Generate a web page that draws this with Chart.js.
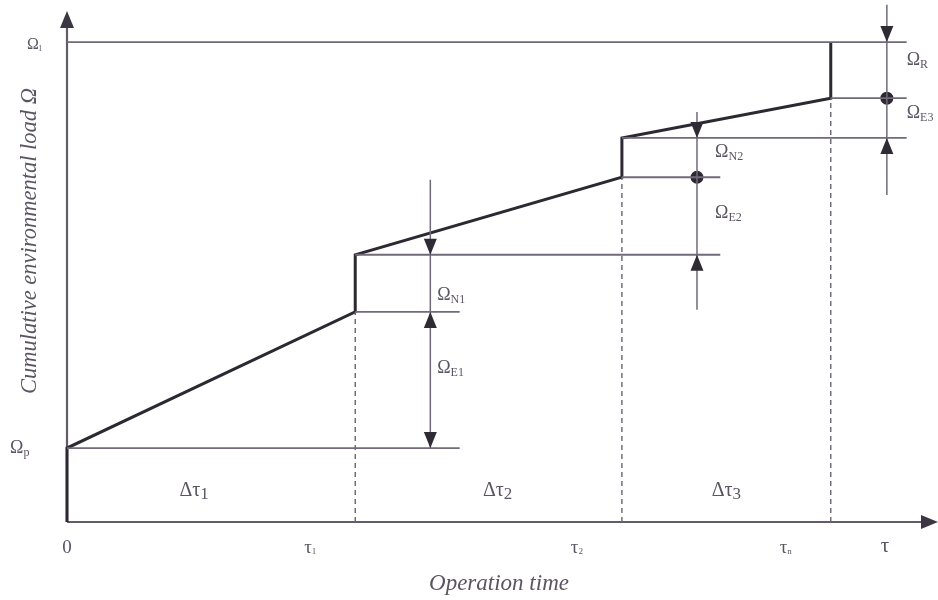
<!DOCTYPE html>
<html>
<head>
<meta charset="utf-8">
<script src="https://cdn.jsdelivr.net/npm/chart.js@4.4.1/dist/chart.umd.min.js"></script>
<style>
  html, body { margin: 0; padding: 0; background: #ffffff; }
  #wrap { width: 938px; height: 600px; position: relative; }
</style>
</head>
<body>
<div id="wrap"><canvas id="c"></canvas></div>
<script>
// Cumulative environmental load of a product over its operation time,
// with a renewal step at the end of every operating phase.

const tauTicks = [0, 3.34, 6.43, 8.85];                  // phase boundaries 0, τ1, τ2, τn
const tauNames = [['0', ''], ['τ', '1'], ['τ', '2'], ['τ', 'n']];
const phaseNames = [['Δτ', '1'], ['Δτ', '2'], ['Δτ', '3']];
const omegaP = 1.45;                                     // load from production
const omegaL = 9.41;                                     // load limit
const loadBeforeStep = [4.12, 6.76, 8.31];               // load at the end of each phase
const loadAfterStep = [5.24, 7.53, 9.41];                // load after each renewal step
const dimX = [4.21, 7.30, 9.50];                         // dimension lines
const guideEnd = [4.55, 7.57, 9.73];                     // right ends of the level lines
const dimSpan = [[6.71, 1.45], [8.04, 4.16], [10.14, 6.41]];
const dimLabels = [
  ['Ω', 'N1', 4.29, 4.45], ['Ω', 'E1', 4.29, 3.02],
  ['Ω', 'N2', 7.51, 7.25], ['Ω', 'E2', 7.51, 6.06],
  ['Ω', 'R', 9.73, 9.06], ['Ω', 'E3', 9.73, 8.02]
];

// load path: production jump, then linear growth and a step per phase
const loadPath = [{ x: 0, y: 0 }, { x: 0, y: omegaP }];
loadBeforeStep.forEach((v, i) => {
  loadPath.push({ x: tauTicks[i + 1], y: v });
  loadPath.push({ x: tauTicks[i + 1], y: loadAfterStep[i] });
});

// thin level lines, separated by gaps
const levelSegs = [
  [0, guideEnd[0], omegaP],
  [0, guideEnd[2], omegaL],
  [tauTicks[1], guideEnd[0], loadBeforeStep[0]],
  [tauTicks[1], guideEnd[1], loadAfterStep[0]],
  [tauTicks[2], guideEnd[1], loadBeforeStep[1]],
  [tauTicks[2], guideEnd[2], loadAfterStep[1]],
  [tauTicks[3], guideEnd[2], loadBeforeStep[2]]
];
const levelPts = [];
levelSegs.forEach(s => {
  levelPts.push({ x: s[0], y: s[2] }, { x: s[1], y: s[2] }, { x: s[1], y: null });
});

// dashed phase boundaries
const dashPts = [];
loadBeforeStep.forEach((v, i) => {
  dashPts.push({ x: tauTicks[i + 1], y: 0 }, { x: tauTicks[i + 1], y: v }, { x: tauTicks[i + 1], y: null });
});

// dimension lines
const dimPts = [];
dimX.forEach((x, i) => {
  dimPts.push({ x: x, y: dimSpan[i][0] }, { x: x, y: dimSpan[i][1] }, { x: x, y: null });
});

const arrowHeads = [
  [dimX[0], loadAfterStep[0], -1], [dimX[0], loadBeforeStep[0], 1], [dimX[0], omegaP, -1],
  [dimX[1], loadAfterStep[1], -1], [dimX[1], loadAfterStep[0], 1],
  [dimX[2], omegaL, -1], [dimX[2], loadAfterStep[1], 1]
];
const dots = [
  { x: dimX[1], y: loadBeforeStep[1] },
  { x: dimX[2], y: loadBeforeStep[2] }
];

const INK = '#5b5563';
const LINE = '#716a79';
const SERIF = '"Liberation Serif", "DejaVu Serif", serif';

function subText(ctx, base, sub, x, y, size, subSize, align, subDrop) {
  ctx.font = size + 'px ' + SERIF;
  const wb = ctx.measureText(base).width;
  ctx.font = subSize + 'px ' + SERIF;
  const ws = ctx.measureText(sub).width;
  const total = wb + ws;
  let left = x;
  if (align === 'center') left = x - total / 2;
  ctx.textAlign = 'left';
  ctx.textBaseline = 'middle';
  ctx.font = size + 'px ' + SERIF;
  ctx.fillText(base, left, y);
  ctx.font = subSize + 'px ' + SERIF;
  ctx.fillText(sub, left + wb, y + subDrop);
}

const decor = {
  id: 'decor',
  beforeDatasetsDraw(chart) {
    const { ctx, scales: { x, y } } = chart;
    const x0 = x.getPixelForValue(0), y0 = y.getPixelForValue(0);
    ctx.save();
    ctx.strokeStyle = '#625c69';
    ctx.fillStyle = '#3c3742';
    ctx.lineWidth = 2.2;
    // axes
    ctx.beginPath();
    ctx.moveTo(x0, y0); ctx.lineTo(x0, 20);
    ctx.moveTo(x0, y0); ctx.lineTo(928, y0);
    ctx.stroke();
    ctx.beginPath();
    ctx.moveTo(x0, 11); ctx.lineTo(x0 - 7, 28); ctx.lineTo(x0 + 7, 28); ctx.closePath(); ctx.fill();
    ctx.beginPath();
    ctx.moveTo(938, y0); ctx.lineTo(921, y0 - 7); ctx.lineTo(921, y0 + 7); ctx.closePath(); ctx.fill();
    ctx.restore();
  },
  afterDatasetsDraw(chart) {
    const { ctx, scales: { x, y } } = chart;
    ctx.save();
    ctx.fillStyle = '#2f2b35';
    arrowHeads.forEach(a => {
      const px = x.getPixelForValue(a[0]);
      const py = y.getPixelForValue(a[1]);
      const d = a[2]; // 1 = pointing up, -1 = pointing down
      ctx.beginPath();
      ctx.moveTo(px, py);
      ctx.lineTo(px - 6.5, py + d * 16);
      ctx.lineTo(px + 6.5, py + d * 16);
      ctx.closePath();
      ctx.fill();
    });

    ctx.fillStyle = INK;
    // dimension labels
    dimLabels.forEach(l => {
      subText(ctx, l[0], l[1], x.getPixelForValue(l[2]), y.getPixelForValue(l[3]), 18, 12, 'left', 5);
    });
    // level names on the load axis
    subText(ctx, 'Ω', 'l', 27, y.getPixelForValue(omegaL) + 3, 16, 9, 'left', 4);
    subText(ctx, 'Ω', 'p', 10, y.getPixelForValue(omegaP), 18, 12, 'left', 5);

    // phase names
    const phaseShift = [-17, 9, 0];
    phaseNames.forEach((p, i) => {
      const cx = (x.getPixelForValue(tauTicks[i]) + x.getPixelForValue(tauTicks[i + 1])) / 2 + phaseShift[i];
      subText(ctx, p[0], p[1], cx, 491, 20, 17, 'center', 4);
    });

    // time tick names
    tauNames.forEach((t, i) => {
      const px = x.getPixelForValue(tauTicks[i]);
      const cx = i === 0 ? px : px - 45;
      subText(ctx, t[0], t[1], cx, 548, 19, 9, 'center', 4);
    });
    subText(ctx, 'τ', '', 885, 546, 21, 9, 'center', 4);

    // axis titles
    ctx.font = 'italic 23px ' + SERIF;
    ctx.textAlign = 'center';
    ctx.textBaseline = 'middle';
    ctx.fillText('Operation time', 499, 584);
    ctx.font = 'italic 22.5px ' + SERIF;
    ctx.translate(30, 241);
    ctx.rotate(-Math.PI / 2);
    ctx.fillText('Cumulative environmental load Ω', 0, 0);
    ctx.restore();
  }
};

new Chart(document.getElementById('c'), {
  type: 'scatter',
  data: {
    datasets: [
      { data: levelPts, showLine: true, borderColor: LINE, borderWidth: 1.8, pointRadius: 0, spanGaps: false, clip: false },
      { data: dashPts, showLine: true, borderColor: '#6a6372', borderWidth: 1.4, borderDash: [5, 4], pointRadius: 0, spanGaps: false, clip: false },
      { data: dimPts, showLine: true, borderColor: LINE, borderWidth: 1.5, pointRadius: 0, spanGaps: false, clip: false },
      { data: loadPath, showLine: true, borderColor: '#2d2933', borderWidth: 3, pointRadius: 0, clip: false },
      { data: dots, showLine: false, pointRadius: 6.5, backgroundColor: '#2d2933', borderWidth: 0, clip: false }
    ]
  },
  options: {
    responsive: true,
    maintainAspectRatio: false,
    animation: false,
    events: [],
    layout: { padding: { left: 67, right: 8, top: 12, bottom: 78 } },
    plugins: { legend: { display: false }, tooltip: { enabled: false } },
    scales: {
      x: { type: 'linear', display: false, min: 0, max: 10 },
      y: { type: 'linear', display: false, min: 0, max: 10 }
    }
  },
  plugins: [decor]
});
</script>
</body>
</html>
